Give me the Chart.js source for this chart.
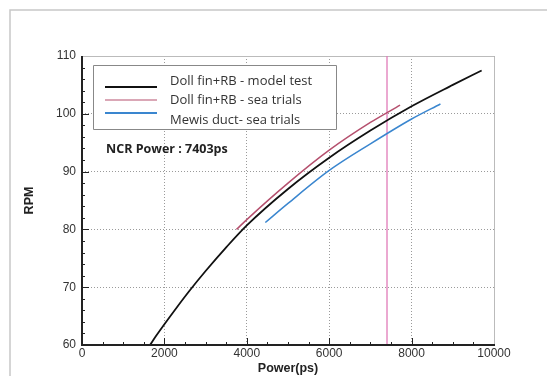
<!DOCTYPE html>
<html>
<head>
<meta charset="utf-8">
<script src="https://cdn.jsdelivr.net/npm/chart.js@4"></script>
<style>
  html, body { margin: 0; padding: 0; background: #fff; }
  #wrap { position: relative; width: 547px; height: 376px; }
</style>
</head>
<body>
<div id="wrap"><canvas id="grafico" width="547" height="376"></canvas></div>
<script>
const etiquetas = ['Doll fin+RB - model test', 'Doll fin+RB - sea trials', 'Mewis duct- sea trials'];
const colores = ['#111111', '#b5506e', '#3a86cf'];

// Power (ps) y RPM
const potenciaModelo = [1650, 1800, 2000, 2300, 2600, 3000, 3500, 4000, 5000, 6000, 7000, 8000, 9000, 9700];
const rpmModelo = [60, 61.6, 63.6, 66.5, 69.3, 72.8, 76.9, 80.7, 87.0, 92.4, 97.1, 101.3, 105, 107.5];
const potenciaPruebas = [3750, 4000, 5000, 6000, 7000, 7720];
const rpmPruebas = [80.0, 81.7, 88, 93.7, 98.5, 101.5];
const potenciaMewis = [4450, 5000, 6000, 7000, 8000, 8700];
const rpmMewis = [81.2, 84.5, 90.2, 94.8, 99.1, 101.7];
const potenciaNCR = 7403;

const ticksX = [0, 2000, 4000, 6000, 8000, 10000];
const ticksY = [60, 70, 80, 90, 100, 110];

const aPuntos = (xs, ys) => xs.map((x, i) => ({ x, y: ys[i] }));

const serie = (i, xs, ys) => ({
  label: etiquetas[i],
  data: aPuntos(xs, ys),
  borderColor: colores[i],
  borderWidth: i === 0 ? 1.8 : 1.5,
  showLine: true,
  pointRadius: 0,
  cubicInterpolationMode: 'monotone',
});

// Marcas menores, ejes y leyenda dibujados a mano
const extras = {
  id: 'extras',
  beforeDatasetsDraw(chart) {
    const { ctx, chartArea: a } = chart;
    ctx.save();
    ctx.strokeStyle = '#bbbbbb';
    ctx.lineWidth = 1;
    ctx.beginPath();
    ctx.moveTo(a.left, a.top + 0.5);
    ctx.lineTo(a.right + 0.5, a.top + 0.5);
    ctx.lineTo(a.right + 0.5, a.bottom);
    ctx.stroke();

    // fondo de la leyenda
    ctx.fillStyle = '#fff';
    ctx.fillRect(93, 65, 244, 64);
    ctx.strokeStyle = '#888';
    ctx.beginPath();
    ctx.rect(93.5, 65.5, 243, 64);
    ctx.stroke();
    ctx.restore();
  },
  afterDatasetsDraw(chart) {
    const { ctx, chartArea: a, scales: { x, y } } = chart;
    ctx.save();
    ctx.strokeStyle = '#222';
    ctx.lineWidth = 1;
    ctx.beginPath();
    for (let v = 500; v < 10000; v += 500) {
      const px = Math.round(x.getPixelForValue(v)) + 0.5;
      const largo = v % 2000 === 0 ? 7 : 3;
      ctx.moveTo(px, a.bottom);
      ctx.lineTo(px, a.bottom - largo);
    }
    for (let v = 62; v < 110; v += 2) {
      const py = Math.round(y.getPixelForValue(v)) + 0.5;
      const largo = v % 10 === 0 ? 7 : 3;
      ctx.moveTo(a.left, py);
      ctx.lineTo(a.left + largo, py);
    }
    ctx.stroke();
    ctx.lineWidth = 2;
    ctx.beginPath();
    ctx.moveTo(a.left, a.top);
    ctx.lineTo(a.left, a.bottom);
    ctx.lineTo(a.right + 1, a.bottom);
    ctx.stroke();

    // leyenda
    const filasTexto = [81, 100, 120];
    const filasLinea = [87, 100, 113];
    ctx.font = '13px "Open Sans", sans-serif';
    ctx.textBaseline = 'middle';
    etiquetas.forEach((t, i) => {
      ctx.strokeStyle = colores[i];
      ctx.lineWidth = i === 1 ? 1.2 : 2;
      ctx.beginPath();
      ctx.moveTo(105, filasLinea[i]);
      ctx.lineTo(157, filasLinea[i]);
      ctx.stroke();
      ctx.fillStyle = '#333';
      ctx.fillText(t, 170, filasTexto[i]);
    });
    ctx.font = 'bold 12.5px "Open Sans", sans-serif';
    ctx.fillStyle = '#222';
    ctx.fillText('NCR Power : ' + potenciaNCR + 'ps', 106, 149);

    // marco de la figura
    ctx.strokeStyle = '#c8c8c8';
    ctx.lineWidth = 1.5;
    ctx.beginPath();
    ctx.moveTo(10, 376);
    ctx.lineTo(10, 10);
    ctx.lineTo(547, 10);
    ctx.stroke();
    ctx.restore();
  },
};

const datos = {
  datasets: [
    serie(0, potenciaModelo, rpmModelo),
    serie(1, potenciaPruebas, rpmPruebas),
    serie(2, potenciaMewis, rpmMewis),
    {
      label: 'NCR',
      data: [{ x: potenciaNCR, y: 60 }, { x: potenciaNCR, y: 110 }],
      borderColor: '#e07ab8',
      borderWidth: 1.3,
      showLine: true,
      pointRadius: 0,
    },
  ],
};

const fuenteTicks = { family: '"Liberation Sans", Arial, sans-serif', size: 12 };
const fuenteTitulo = { family: '"Liberation Sans", Arial, sans-serif', size: 12.5, weight: 'bold' };

const config = {
  type: 'scatter',
  data: datos,
  options: {
    responsive: false,
    animation: false,
    layout: { padding: { left: 0, top: 56, right: 53, bottom: 0 } },
    plugins: { legend: { display: false }, tooltip: { enabled: false } },
    scales: {
      x: {
        type: 'linear',
        min: 0,
        max: 10000,
        afterBuildTicks: (s) => { s.ticks = ticksX.map(v => ({ value: v })); },
        afterFit: (s) => { s.height = 31; },
        ticks: { color: '#333', font: fuenteTicks, padding: 1, maxRotation: 0, callback: (v) => String(v) },
        grid: { color: '#9a9a9a', tickLength: 0, drawTicks: false },
        border: { display: false, dash: [1, 2] },
        title: { display: true, text: 'Power(ps)', color: '#222', font: fuenteTitulo, padding: { top: 0, bottom: 0 } },
      },
      y: {
        type: 'linear',
        min: 60,
        max: 110,
        afterBuildTicks: (s) => { s.ticks = ticksY.map(v => ({ value: v })); },
        afterFit: (s) => { s.width = 82; },
        ticks: { color: '#333', font: fuenteTicks, padding: 6, callback: (v) => String(v) },
        grid: { color: '#9a9a9a', tickLength: 0, drawTicks: false },
        border: { display: false, dash: [1, 2] },
        title: { display: true, text: 'RPM', color: '#222', font: fuenteTitulo, padding: { top: 22, bottom: 0 } },
      },
    },
  },
  plugins: [extras],
};

new Chart(document.getElementById('grafico').getContext('2d'), config);
</script>
</body>
</html>
